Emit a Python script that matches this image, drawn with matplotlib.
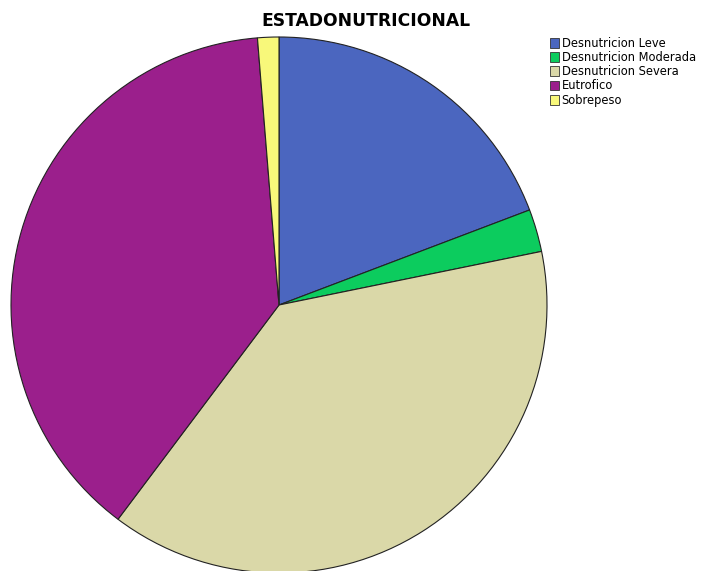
import matplotlib
matplotlib.use("Agg")
import matplotlib.pyplot as plt

categories = ["Desnutricion Leve", "Desnutricion Moderada", "Desnutricion Severa", "Eutrofico", "Sobrepeso"]
counts = [15, 2, 30, 30, 1]
colors = ["#4b66bf", "#0ccc5e", "#dad8a8", "#9b1f8c", "#f8f87a"]
title = "ESTADONUTRICIONAL"

W, H = 709, 571
fig = plt.figure(figsize=(W / 100, H / 100), dpi=100)
cx, cy, r = 279, 305, 268
ax = fig.add_axes([(cx - r) / W, (H - cy - r) / H, 2 * r / W, 2 * r / H])
wedges, _ = ax.pie(counts, colors=colors, startangle=90, counterclock=False,
                   radius=1, wedgeprops=dict(edgecolor="#222222", linewidth=0.8))
ax.set_xlim(-1, 1)
ax.set_ylim(-1, 1)
ax.set_aspect("equal")
ax.axis("off")

fig.text(366 / W, 1 - 21 / H, title, ha="center", va="center",
         fontsize=12.3, fontweight="bold", family="DejaVu Sans")

leg = fig.legend(wedges, categories, loc="upper left",
                 bbox_to_anchor=(550 / W, 1 - 37 / H), frameon=False,
                 fontsize=8.3, handlelength=0.8, handleheight=0.95,
                 handletextpad=0.2, labelspacing=0.1, borderpad=0, borderaxespad=0)
for h in leg.legend_handles:
    h.set_edgecolor("#333333")
    h.set_linewidth(0.6)

fig.savefig("out.png", dpi=100)
